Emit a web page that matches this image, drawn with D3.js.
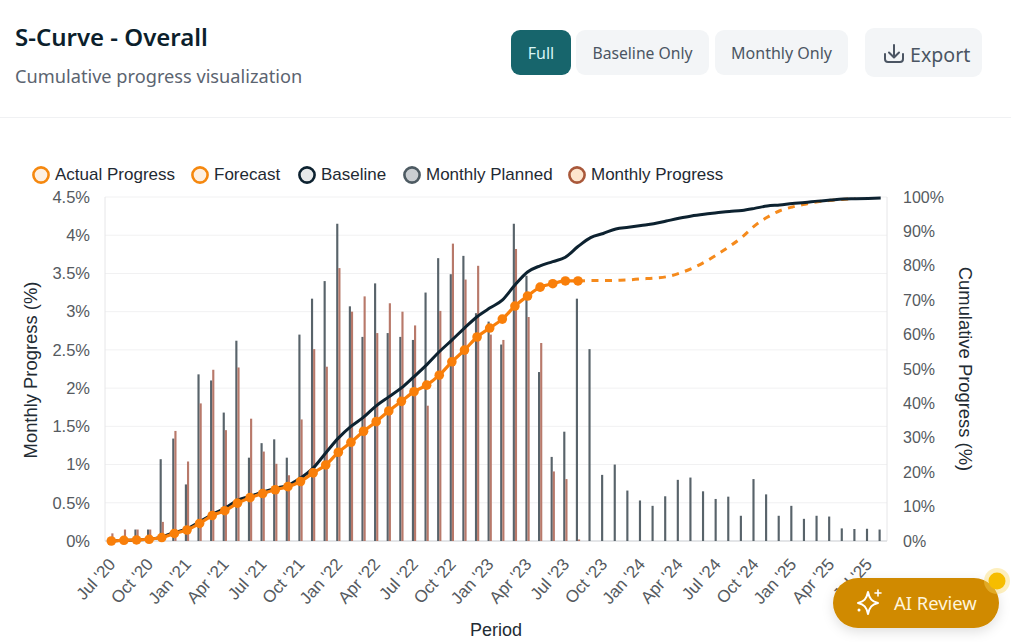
<!DOCTYPE html>
<html><head><meta charset="utf-8">
<script src="https://cdn.jsdelivr.net/npm/d3@7"></script>
<style>
html,body{margin:0;padding:0;background:#fff;overflow:hidden}
svg{display:block}
.hd{font-family:"Noto Sans",sans-serif}
.ch{font-family:"Liberation Sans",Arial,sans-serif}
.domain{display:none}
.tick line{display:none}
</style></head><body>
<svg id="c" width="1011" height="642"></svg>
<script>
const months=["Jul '20","Aug '20","Sep '20","Oct '20","Nov '20","Dec '20","Jan '21","Feb '21","Mar '21","Apr '21","May '21","Jun '21","Jul '21","Aug '21","Sep '21","Oct '21","Nov '21","Dec '21","Jan '22","Feb '22","Mar '22","Apr '22","May '22","Jun '22","Jul '22","Aug '22","Sep '22","Oct '22","Nov '22","Dec '22","Jan '23","Feb '23","Mar '23","Apr '23","May '23","Jun '23","Jul '23","Aug '23","Sep '23","Oct '23","Nov '23","Dec '23","Jan '24","Feb '24","Mar '24","Apr '24","May '24","Jun '24","Jul '24","Aug '24","Sep '24","Oct '24","Nov '24","Dec '24","Jan '25","Feb '25","Mar '25","Apr '25","May '25","Jun '25","Jul '25","Aug '25"];
const monthlyPlanned=[0,0,0.15,0.15,1.07,1.34,0.74,2.18,2.10,1.68,2.62,1.09,1.28,1.33,1.09,2.70,3.17,3.40,4.15,3.07,2.67,3.37,2.72,2.67,2.63,3.25,3.70,3.49,3.73,2.98,2.87,2.57,4.15,3.47,2.21,1.10,1.43,3.17,2.51,0.865,1.0,0.66,0.53,0.46,0.585,0.80,0.83,0.65,0.55,0.58,0.33,0.81,0.61,0.33,0.46,0.29,0.33,0.32,0.165,0.157,0.16,0.15];
const monthlyProgress=[0.1,0.15,0.15,0.15,0.25,1.44,1.04,1.80,2.24,1.45,2.27,1.60,1.17,1.01,0.86,1.59,2.51,2.28,3.57,3.0,3.20,2.72,3.11,3.0,2.82,1.77,3.01,3.89,3.42,3.60,2.70,2.63,3.82,2.93,2.59,0.91,0.81,0.02];
const actualProgress=[0,0.2,0.3,0.5,1,2.2,3.2,5.1,7.4,8.8,11,12.6,13.8,14.9,15.8,17.3,19.8,22.1,25.8,28.7,31.9,34.7,37.8,40.6,43.4,45.3,48.2,52.1,55.5,59.3,61.9,64.5,68.3,71.2,73.8,74.8,75.6,75.6];
const forecastStart=37;
const forecast=[75.6,75.7,75.7,75.8,75.9,76.2,76.4,76.8,77.8,79.2,81,83.2,85.6,88.3,91.6,94.1,96,97.1,97.9,98.6,99,99.3,99.6];
const baseline=[0,0.2,0.3,0.5,1.2,2.5,3.5,5.6,7.7,9.5,11.8,13,14.2,15.3,16.2,18.3,21.2,25.6,29.9,33.3,36,39.3,41.9,44.5,47.8,51.2,55,58.4,61.9,65.2,67.7,70,74.4,78.2,80,81.2,82.5,85.6,88.2,89.4,90.7,91.2,91.7,92.2,93,93.8,94.5,95,95.4,95.8,96.1,96.7,97.4,97.7,98.1,98.4,98.8,99.1,99.4,99.5,99.6,99.7];
const leftTicks=[0,0.5,1,1.5,2,2.5,3,3.5,4,4.5];
const rightTicks=[0,10,20,30,40,50,60,70,80,90,100];
const legendItems=[
 {label:"Actual Progress",fill:"#fdf0e3",stroke:"#f5880f"},
 {label:"Forecast",fill:"#fdf0e3",stroke:"#f5880f"},
 {label:"Baseline",fill:"#e8eaeb",stroke:"#0d2230"},
 {label:"Monthly Planned",fill:"#c9cdd1",stroke:"#4d5a62"},
 {label:"Monthly Progress",fill:"#fde5cd",stroke:"#a9583a"}];
const legendX=[41,200,307,412,577];

const svg=d3.select("#c");
const L=105,R=887,T=197,B=541;
const x=d3.scaleBand().domain(months).range([L,R]).padding(0);
const yL=d3.scaleLinear().domain([0,4.5]).range([B,T]);
const yR=d3.scaleLinear().domain([0,100]).range([B,T]);
const cx=i=>x(months[i])+x.bandwidth()/2;

// header
const hd=svg.append("g").attr("class","hd");
hd.append("text").text("S-Curve - Overall").attr("x",15).attr("y",46).attr("font-size",24).attr("font-weight",600).attr("fill","#0c1f2c");
hd.append("text").text("Cumulative progress visualization").attr("x",15).attr("y",83).attr("font-size",18.2).attr("fill","#5b6470");
hd.append("line").attr("x1",0).attr("x2",1011).attr("y1",117.5).attr("y2",117.5).attr("stroke","#f0f1f3");
const btns=[{t:"Full",a:511,b:571,y:30,h:45,f:"#17656c",c:"#d9f5f5",s:16},{t:"Baseline Only",a:576,b:709,y:30,h:45,f:"#f3f5f7",c:"#4b5563",s:15.7},{t:"Monthly Only",a:715,b:848,y:30,h:45,f:"#f3f5f7",c:"#4b5563",s:16}];
btns.forEach(d=>{
 hd.append("rect").attr("x",d.a).attr("y",d.y).attr("width",d.b-d.a).attr("height",d.h).attr("rx",9).attr("fill",d.f);
 hd.append("text").text(d.t).attr("x",(d.a+d.b)/2).attr("y",d.y+d.h/2+6).attr("text-anchor","middle").attr("font-size",d.s).attr("fill",d.c);
});
hd.append("rect").attr("x",865).attr("y",28).attr("width",117).attr("height",49).attr("rx",9).attr("fill","#f3f5f7");
hd.append("text").text("Export").attr("x",910).attr("y",62).attr("font-size",19.6).attr("fill","#4b5563");
hd.append("path").attr("d","M885 54v5a3 3 0 0 0 3 3h12a3 3 0 0 0 3-3v-5M894 45v12M889 52.5l5 5 5-5").attr("fill","none").attr("stroke","#4b5563").attr("stroke-width",2).attr("stroke-linecap","round").attr("stroke-linejoin","round");

// grid and frame
const ch=svg.append("g").attr("class","ch");
ch.selectAll(".g").data(leftTicks).join("line").attr("x1",L).attr("x2",R).attr("y1",d=>yL(d)).attr("y2",d=>yL(d)).attr("stroke","#f1f1f2");
ch.append("line").attr("x1",L).attr("x2",L).attr("y1",T).attr("y2",B).attr("stroke","#e6e6e8");
ch.append("line").attr("x1",R).attr("x2",R).attr("y1",T).attr("y2",B).attr("stroke","#e6e6e8");
ch.append("line").attr("x1",L).attr("x2",R).attr("y1",B).attr("y2",B).attr("stroke","#cfd2d6");

// bars
const bw=x.bandwidth()*0.17;
ch.selectAll(".pl").data(monthlyPlanned).join("rect").attr("x",(d,i)=>cx(i)-bw).attr("width",bw).attr("y",d=>yL(d)).attr("height",d=>B-yL(d)).attr("fill","#58636a");
ch.selectAll(".pr").data(monthlyProgress).join("rect").attr("x",(d,i)=>cx(i)).attr("width",bw).attr("y",d=>yL(d)).attr("height",d=>B-yL(d)).attr("fill","#b8796a");

// lines
const line=d3.line().x(d=>cx(d[0])).y(d=>yR(d[1])).curve(d3.curveMonotoneX);
ch.append("path").attr("d",line(forecast.map((v,i)=>[i+forecastStart,v]))).attr("fill","none").attr("stroke","#f58a1c").attr("stroke-width",3).attr("stroke-dasharray","7 6.5");
ch.append("path").attr("d",line(baseline.map((v,i)=>[i,v]))).attr("fill","none").attr("stroke","#0d2230").attr("stroke-width",3);
ch.append("path").attr("d",line(actualProgress.map((v,i)=>[i,v]))).attr("fill","none").attr("stroke","#f97f0a").attr("stroke-width",3.2);
ch.selectAll(".m").data(actualProgress).join("circle").attr("cx",(d,i)=>cx(i)).attr("cy",d=>yR(d)).attr("r",4.8).attr("fill","#f97f0a");

// axes
const axL=ch.append("g").attr("transform",`translate(${L},0)`).call(d3.axisLeft(yL).tickValues(leftTicks).tickFormat(d=>d+"%").tickSize(0).tickPadding(15));
axL.selectAll("text").attr("font-size",16.5).attr("font-family","Liberation Sans").attr("fill","#555a60");
const axR=ch.append("g").attr("transform",`translate(${R},0)`).call(d3.axisRight(yR).tickValues(rightTicks).tickFormat(d=>d+"%").tickSize(0).tickPadding(16));
axR.selectAll("text").attr("font-size",16).attr("font-family","Liberation Sans").attr("fill","#555a60");
const axB=ch.append("g").attr("transform",`translate(0,${B})`).call(d3.axisBottom(x).tickValues(months.filter((d,i)=>i%3===0)).tickSize(0).tickPadding(0));
axB.selectAll("text").attr("font-size",17).attr("font-family","Liberation Sans").attr("fill","#555a60").attr("text-anchor","end").attr("dy",0).attr("transform","translate(5,24) rotate(-48)");

ch.append("text").text("Monthly Progress (%)").attr("transform","translate(37,370) rotate(-90)").attr("text-anchor","middle").attr("font-size",18.4).attr("fill","#222b33");
ch.append("text").text("Cumulative Progress (%)").attr("transform","translate(959,369) rotate(90)").attr("text-anchor","middle").attr("font-size",18.4).attr("fill","#222b33");
ch.append("text").text("Period").attr("x",496).attr("y",636).attr("text-anchor","middle").attr("font-size",18).attr("fill","#222b33");

// legend
const lg=ch.selectAll(".lg").data(legendItems).join("g").attr("transform",(d,i)=>`translate(${legendX[i]},175)`);
lg.append("circle").attr("r",7.6).attr("fill",d=>d.fill).attr("stroke",d=>d.stroke).attr("stroke-width",2.6);
lg.append("text").text(d=>d.label).attr("x",14).attr("y",5).attr("font-size",17).attr("fill","#1f2a33");

// AI review
const ai=svg.append("g").attr("class","hd");
const defs=svg.append("defs");
const fl=defs.append("filter").attr("id","sh").attr("x","-20%").attr("y","-30%").attr("width","140%").attr("height","170%");
fl.append("feDropShadow").attr("dx",0).attr("dy",4).attr("stdDeviation",6).attr("flood-color","#000").attr("flood-opacity",0.12);
ai.append("rect").attr("x",833).attr("y",578).attr("width",166).attr("height",50).attr("rx",25).attr("fill","#d08a06").attr("filter","url(#sh)");
ai.append("text").text("AI Review").attr("x",894).attr("y",610).attr("font-size",18.4).attr("fill","#fff5dc");
ai.append("path").attr("d","M868 592c1.5 7 4 9.5 10 11c-6 1.500-8.500 4-10 11c-1.500-7-4-9.500-10-11c6-1.500 8.500-4 10-11z").attr("fill","none").attr("stroke","#fff").attr("stroke-width",2).attr("stroke-linejoin","round");
ai.append("path").attr("d","M878 590v6M875 593h6").attr("stroke","#fff").attr("stroke-width",1.6).attr("stroke-linecap","round");
ai.append("circle").attr("cx",859).attr("cy",610).attr("r",1.5).attr("fill","#fff");
ai.append("circle").attr("cx",997).attr("cy",581).attr("r",13).attr("fill","#f9d75c").attr("opacity",0.4);
ai.append("circle").attr("cx",997).attr("cy",581).attr("r",8.5).attr("fill","#f6bd00");
</script></body></html>
